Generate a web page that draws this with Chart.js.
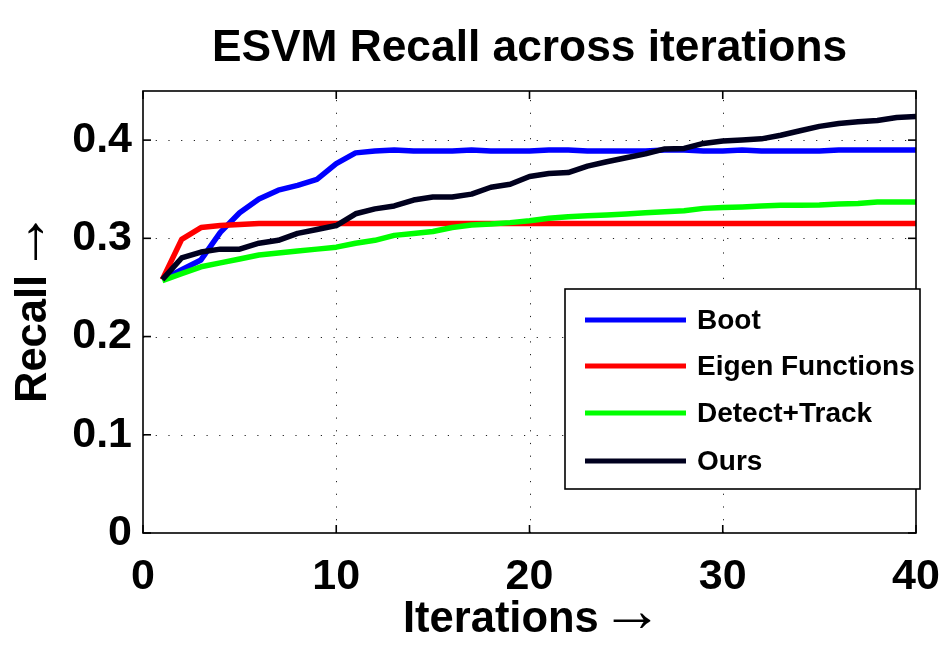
<!DOCTYPE html>
<html>
<head>
<meta charset="utf-8">
<script src="https://cdn.jsdelivr.net/npm/chart.js@4/dist/chart.umd.min.js"></script>
<style>
  html, body { margin: 0; padding: 0; background: #fff; }
  #wrap { width: 952px; height: 648px; position: relative; }
</style>
</head>
<body>
<div id="wrap"><canvas id="c" width="952" height="648"></canvas></div>
<script>
const iterations = Array.from({length: 40}, (_, i) => i + 1);
const xTicks = [0, 10, 20, 30, 40];
const yTicks = [0, 0.1, 0.2, 0.3, 0.4];
const yTickLabels = ['0', '0.1', '0.2', '0.3', '0.4'];
const seriesNames = ['Boot', 'Eigen Functions', 'Detect+Track', 'Ours'];
const seriesColors = ['#0000ff', '#ff0000', '#00ff00', '#00001e'];

const boot = [0.258, 0.268, 0.278, 0.306, 0.326, 0.340, 0.349, 0.354, 0.360, 0.376,
              0.387, 0.389, 0.390, 0.389, 0.389, 0.389, 0.390, 0.389, 0.389, 0.389,
              0.390, 0.390, 0.389, 0.389, 0.389, 0.389, 0.390, 0.390, 0.389, 0.389,
              0.390, 0.389, 0.389, 0.389, 0.389, 0.390, 0.390, 0.390, 0.390, 0.390];
const eigen = [0.258, 0.299, 0.311, 0.313, 0.314, 0.315, 0.315, 0.315, 0.315, 0.315,
               0.315, 0.315, 0.315, 0.315, 0.315, 0.315, 0.315, 0.315, 0.315, 0.315,
               0.315, 0.315, 0.315, 0.315, 0.315, 0.315, 0.315, 0.315, 0.315, 0.315,
               0.315, 0.315, 0.315, 0.315, 0.315, 0.315, 0.315, 0.315, 0.315, 0.315];
const detectTrack = [0.257, 0.264, 0.271, 0.275, 0.279, 0.283, 0.285, 0.287, 0.289, 0.291,
                     0.295, 0.298, 0.303, 0.305, 0.307, 0.311, 0.3135, 0.3145, 0.316, 0.318,
                     0.3205, 0.322, 0.323, 0.3237, 0.3247, 0.326, 0.327, 0.328, 0.3305, 0.3315,
                     0.332, 0.3328, 0.3338, 0.3338, 0.334, 0.335, 0.3355, 0.337, 0.337, 0.337];
const ours = [0.258, 0.280, 0.286, 0.289, 0.289, 0.295, 0.298, 0.305, 0.309, 0.313,
              0.325, 0.330, 0.333, 0.339, 0.342, 0.342, 0.345, 0.352, 0.355, 0.363,
              0.366, 0.367, 0.3735, 0.378, 0.382, 0.386, 0.391, 0.3915, 0.3966, 0.399,
              0.400, 0.4013, 0.405, 0.4095, 0.414, 0.417, 0.4187, 0.420, 0.423, 0.424];

const FONT = '"Liberation Sans", Arial, Helvetica, sans-serif';
const ARROW_FONT = '"Liberation Sans", sans-serif';
const ARROW_SIZE = 62;
const allSeries = [boot, eigen, detectTrack, ours];

const datasets = allSeries.map((vals, k) => ({
  label: seriesNames[k],
  data: iterations.map((x, i) => ({x: x, y: vals[i]})),
  borderColor: seriesColors[k],
  backgroundColor: seriesColors[k],
  borderWidth: 5.5,
  pointRadius: 0,
  tension: 0,
  fill: false,
  borderJoinStyle: 'round',
  order: 4 - k
}));

const decor = {
  id: 'decor',
  beforeDatasetsDraw(chart) {
    const {ctx, chartArea: a, scales: {x, y}} = chart;
    ctx.save();
    ctx.strokeStyle = '#222';
    ctx.lineWidth = 1;
    ctx.setLineDash([1.2, 11.5]);
    xTicks.forEach(v => {
      if (v === xTicks[0] || v === xTicks[xTicks.length - 1]) return;
      const px = Math.round(x.getPixelForValue(v)) + 0.5;
      ctx.beginPath(); ctx.moveTo(px, a.bottom); ctx.lineTo(px, a.top); ctx.stroke();
    });
    yTicks.forEach(v => {
      if (v === 0) return;
      const py = Math.round(y.getPixelForValue(v)) + 0.5;
      ctx.beginPath(); ctx.moveTo(a.left, py); ctx.lineTo(a.right, py); ctx.stroke();
    });
    ctx.restore();
  },
  afterDatasetsDraw(chart) {
    const {ctx, chartArea: a, scales: {x, y}} = chart;
    ctx.save();
    ctx.strokeStyle = '#000';
    ctx.lineWidth = 1.6;
    ctx.setLineDash([]);
    ctx.strokeRect(a.left, a.top, a.right - a.left, a.bottom - a.top);
    const tl = 8;
    xTicks.forEach(v => {
      const px = x.getPixelForValue(v);
      ctx.beginPath(); ctx.moveTo(px, a.bottom); ctx.lineTo(px, a.bottom - tl); ctx.stroke();
      ctx.beginPath(); ctx.moveTo(px, a.top); ctx.lineTo(px, a.top + tl); ctx.stroke();
    });
    yTicks.forEach(v => {
      const py = y.getPixelForValue(v);
      ctx.beginPath(); ctx.moveTo(a.left, py); ctx.lineTo(a.left + tl, py); ctx.stroke();
      ctx.beginPath(); ctx.moveTo(a.right, py); ctx.lineTo(a.right - tl, py); ctx.stroke();
    });
    ctx.restore();
  },
  afterDraw(chart) {
    const {ctx, chartArea: a} = chart;
    ctx.save();
    ctx.fillStyle = '#000';
    // Title
    ctx.font = 'bold 44.3px ' + FONT;
    ctx.textAlign = 'center';
    ctx.textBaseline = 'alphabetic';
    ctx.fillText('ESVM Recall across iterations', (a.left + a.right) / 2, 61);

    const arrow = '\u2192';
    const TITLE_FONT = 'bold 43.5px ' + FONT;
    // X axis title
    const xb = 'Iterations';
    ctx.textAlign = 'left';
    ctx.font = TITLE_FONT;
    const w1 = ctx.measureText(xb).width;
    const sx = 403;
    ctx.fillText(xb, sx, 632);
    ctx.font = ARROW_SIZE + 'px ' + ARROW_FONT;
    ctx.fillText(arrow, sx + w1 + 2, 631);

    // Y axis title
    ctx.translate(46, 403);
    ctx.rotate(-Math.PI / 2);
    const yb = 'Recall';
    ctx.font = TITLE_FONT;
    const v1 = ctx.measureText(yb).width;
    ctx.fillText(yb, 0, 0);
    ctx.font = ARROW_SIZE + 'px ' + ARROW_FONT;
    ctx.fillText(arrow, v1 + 2, 0);
    ctx.restore();

    // Legend
    ctx.save();
    const lx = 565, ly = 289, lw = 355, lh = 200;
    ctx.fillStyle = '#fff';
    ctx.fillRect(lx, ly, lw, lh);
    ctx.strokeStyle = '#000';
    ctx.lineWidth = 1.6;
    ctx.strokeRect(lx, ly, lw, lh);
    const rows = [320, 366, 413, 461];
    chart.data.datasets.forEach((ds, k) => {
      ctx.strokeStyle = ds.borderColor;
      ctx.lineWidth = 5;
      ctx.beginPath(); ctx.moveTo(585, rows[k]); ctx.lineTo(686, rows[k]); ctx.stroke();
      ctx.fillStyle = '#000';
      ctx.font = 'bold 28px ' + FONT;
      ctx.textAlign = 'left';
      ctx.textBaseline = 'middle';
      ctx.fillText(ds.label, 697, rows[k] + 1);
    });
    ctx.restore();
  }
};

new Chart(document.getElementById('c'), {
  type: 'line',
  data: { datasets: datasets },
  options: {
    responsive: false,
    animation: false,
    layout: { padding: { top: 91, right: 36, left: 0, bottom: 0 } },
    plugins: { legend: { display: false }, title: { display: false }, tooltip: { enabled: false } },
    scales: {
      x: {
        type: 'linear', min: 0, max: 40,
        afterBuildTicks: s => { s.ticks = xTicks.map(v => ({value: v})); },
        afterFit: s => { s.height = 115; s.paddingLeft = 0; s.paddingRight = 0; },
        grid: { display: false, drawTicks: false },
        border: { display: false },
        ticks: { color: '#000', padding: 18, maxRotation: 0, font: { family: FONT, size: 43, weight: 'bold' },
                 callback: v => String(v) }
      },
      y: {
        type: 'linear', min: 0, max: 0.45,
        afterBuildTicks: s => { s.ticks = yTicks.map(v => ({value: v})); },
        afterFit: s => { s.width = 143; s.paddingTop = 0; s.paddingBottom = 0; },
        grid: { display: false, drawTicks: false },
        border: { display: false },
        ticks: { color: '#000', padding: 11, font: { family: FONT, size: 43, weight: 'bold' },
                 callback: (v) => { const i = yTicks.findIndex(t => Math.abs(t - v) < 1e-9); return i >= 0 ? yTickLabels[i] : ''; } }
      }
    }
  },
  plugins: [decor]
});
</script>
</body>
</html>
